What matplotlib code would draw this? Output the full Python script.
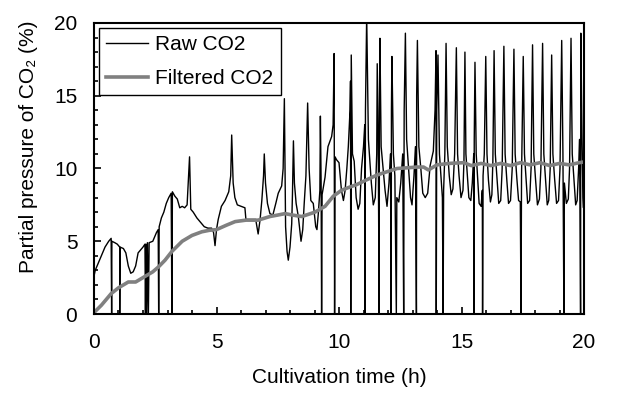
import numpy as np
import matplotlib.pyplot as plt
from matplotlib.ticker import MultipleLocator

plt.rcParams['font.family'] = ['Liberation Sans', 'DejaVu Sans']

# raw CO2 signal (time h, partial pressure %)
raw_t = [0.00, 0.05, 0.15, 0.30, 0.45, 0.60, 0.70, 0.72, 0.73, 0.85, 0.95, 1.05, 1.05, 1.06,
         1.20, 1.30, 1.40, 1.50, 1.60, 1.70, 1.80, 1.90, 2.00, 2.08, 2.10, 2.12, 2.15, 2.18,
         2.22, 2.25, 2.40, 2.55, 2.62, 2.64, 2.66, 2.75, 2.85, 2.95, 3.05, 3.15, 3.18, 3.20,
         3.30, 3.40, 3.50, 3.60, 3.70, 3.80, 3.90, 3.95, 4.05, 4.20, 4.35, 4.50, 4.65, 4.80,
         4.88, 4.94, 5.00, 5.07, 5.20, 5.35, 5.50, 5.58, 5.62, 5.68, 5.75, 5.85, 6.00, 6.16,
         6.20, 6.40, 6.60, 6.70, 6.78, 6.85, 6.92, 6.95, 7.00, 7.08, 7.18, 7.30, 7.42, 7.52,
         7.66, 7.72, 7.77, 7.82, 7.88, 7.93, 8.00, 8.07, 8.10, 8.14, 8.18, 8.25, 8.34, 8.45,
         8.52, 8.58, 8.65, 8.72, 8.78, 8.85, 8.95, 9.05, 9.10, 9.16, 9.22, 9.24, 9.27, 9.29,
         9.31, 9.43, 9.55, 9.70, 9.76, 9.80, 9.82, 9.84, 9.90, 10.00, 10.10, 10.18, 10.25,
         10.32, 10.38, 10.45, 10.47, 10.48, 10.50, 10.55, 10.62, 10.70, 10.78, 10.85, 10.92,
         11.00, 11.05, 11.06, 11.08, 11.13, 11.20, 11.26, 11.32, 11.40, 11.48, 11.54, 11.56,
         11.60, 11.64, 11.65, 11.67, 11.72, 11.80, 11.88, 11.96, 12.04, 12.10, 12.13, 12.14,
         12.16, 12.22, 12.28, 12.34, 12.36, 12.44, 12.52, 12.60, 12.64, 12.66, 12.71, 12.76,
         12.84, 12.92, 12.98, 13.06, 13.12, 13.16, 13.17, 13.20, 13.26, 13.34, 13.42, 13.52,
         13.62, 13.72, 13.85, 13.92, 13.96, 13.97, 13.99, 14.04, 14.10, 14.16, 14.22, 14.25,
         14.27, 14.32, 14.37, 14.42, 14.50, 14.58, 14.65, 14.72, 14.79, 14.84, 14.90, 14.98,
         15.06, 15.10, 15.14, 15.18, 15.24, 15.30, 15.38, 15.44, 15.50, 15.51, 15.52, 15.55,
         15.60, 15.66, 15.72, 15.80, 15.85, 15.86, 15.88, 15.93, 15.99, 16.04, 16.10, 16.18,
         16.24, 16.28, 16.33, 16.38, 16.45, 16.52, 16.60, 16.66, 16.73, 16.78, 16.85, 16.92,
         17.00, 17.07, 17.14, 17.19, 17.26, 17.33, 17.40, 17.43, 17.45, 17.52, 17.57, 17.64,
         17.70, 17.78, 17.84, 17.90, 17.95, 18.02, 18.10, 18.18, 18.24, 18.31, 18.36, 18.43,
         18.50, 18.56, 18.62, 18.68, 18.73, 18.80, 18.88, 18.96, 19.02, 19.09, 19.14, 19.18,
         19.20, 19.28, 19.36, 19.41, 19.47, 19.52, 19.58, 19.66, 19.72, 19.78, 19.82, 19.86,
         19.87, 19.92, 19.96, 19.98, 20.00]
raw_v = [2.6, 3.0, 3.4, 4.0, 4.6, 5.0, 5.2, 0.0, 5.0, 4.9, 4.8, 4.6, 0.0, 4.6,
         4.5, 4.2, 3.3, 2.8, 2.9, 3.3, 4.2, 4.4, 4.6, 4.8, 0.0, 4.8, 0.0, 4.9,
         0.0, 4.9, 5.0, 5.6, 5.8, 0.0, 6.0, 6.6, 7.0, 7.6, 8.0, 8.3, 0.0, 8.4,
         8.1, 7.9, 7.3, 7.4, 7.3, 7.5, 10.8, 7.2, 7.0, 6.6, 6.3, 6.0, 5.9, 5.9,
         5.6, 4.7, 5.8, 6.5, 7.4, 7.8, 8.4, 9.5, 12.3, 9.0, 8.0, 7.5, 7.4, 7.3,
         6.5, 6.5, 6.5, 5.5, 6.5, 7.8, 9.5, 11.0, 9.0, 7.6, 6.9, 6.8, 7.6, 8.3,
         8.8, 10.0, 14.8, 6.0, 4.3, 3.7, 4.6, 6.2, 8.2, 11.9, 9.0, 7.6, 6.7, 5.0,
         5.8, 7.6, 9.5, 14.5, 10.0, 7.8, 7.6, 6.0, 5.8, 7.0, 8.5, 13.6, 9.0, 0.0,
         8.2, 9.4, 11.5, 12.2, 13.0, 17.9, 0.0, 10.8, 10.6, 10.4, 8.5, 7.8, 8.5,
         10.0, 11.5, 14.0, 16.0, 0.0, 17.8, 11.0, 10.5, 8.0, 7.2, 7.6, 10.0,
         11.5, 13.0, 0.0, 14.0, 20.5, 12.0, 10.5, 9.0, 7.5, 8.0, 11.0, 17.2,
         12.0, 0.0, 14.0, 18.95, 11.5, 10.0, 8.5, 7.4, 9.0, 11.0, 0.0, 14.0,
         17.7, 11.0, 9.5, 0.0, 8.0, 7.7, 9.0, 11.0, 0.0, 14.0, 19.3, 12.0,
         10.0, 8.0, 7.5, 9.5, 11.5, 0.0, 15.0, 18.8, 11.5, 10.0, 8.3, 8.0,
         8.3, 10.2, 11.2, 14.0, 18.1, 0.0, 14.0, 17.8, 11.0, 9.5, 8.0, 0.0,
         8.5, 11.0, 18.6, 11.5, 9.5, 8.2, 8.6, 11.0, 18.3, 11.0, 9.5, 8.0,
         8.5, 10.5, 18.0, 11.0, 9.5, 8.0, 7.8, 9.0, 11.0, 0.0, 12.0, 17.3,
         11.0, 9.3, 7.6, 7.4, 8.5, 0.0, 9.5, 11.0, 17.7, 11.0, 9.2, 7.7,
         8.2, 10.5, 18.1, 11.0, 9.3, 7.6, 7.8, 10.0, 18.4, 11.0, 9.2, 7.6,
         7.8, 10.0, 18.2, 11.0, 9.3, 7.8, 7.7, 0.0, 9.5, 17.7, 11.0, 9.2,
         7.6, 7.8, 10.0, 18.5, 11.0, 9.3, 7.5, 7.9, 10.0, 18.6, 11.0, 9.2,
         7.5, 7.8, 10.0, 17.8, 11.0, 9.3, 7.6, 7.8, 10.0, 18.8, 11.0, 0.0,
         9.0, 7.6, 7.9, 10.0, 18.95, 11.0, 9.5, 7.5, 7.8, 10.0, 12.0, 0.0,
         19.3, 12.0, 8.0, 7.3, 17.9]

# filtered CO2 signal
filt_t = [0.0, 0.3, 0.7, 1.0, 1.4, 1.7, 2.1, 2.4, 2.64, 2.9, 3.18, 3.6, 4.0, 4.4, 4.7,
          5.0, 5.4, 5.76, 6.2, 6.7, 7.18, 7.5, 7.8, 8.1, 8.48, 9.02, 9.43, 9.77, 10.1,
          10.4, 10.73, 11.1, 11.55, 12.0, 12.37, 12.8, 13.18, 13.45, 13.65, 14.0, 14.5,
          15.09, 15.4, 15.8, 16.2, 16.6, 17.0, 17.4, 17.8, 18.2, 18.6, 19.0, 19.4,
          19.8, 20.0]
filt_v = [0.1, 0.6, 1.4, 1.8, 2.2, 2.2, 2.6, 2.9, 3.25, 3.7, 4.3, 5.0, 5.4, 5.65, 5.75,
          5.8, 6.1, 6.35, 6.45, 6.45, 6.7, 6.8, 6.9, 6.8, 6.7, 7.0, 7.4, 8.1, 8.5,
          8.7, 8.9, 9.2, 9.55, 9.8, 10.0, 10.05, 10.1, 10.1, 9.9, 10.25, 10.35,
          10.4, 10.2, 10.35, 10.2, 10.35, 10.2, 10.4, 10.25, 10.4, 10.2, 10.35, 10.25,
          10.4, 10.45]

fig = plt.figure(figsize=(6.23, 3.94), dpi=100)
ax = fig.add_axes([94 / 623, 80 / 394, 490 / 623, 291 / 394])

ax.plot(raw_t, raw_v, color="black", lw=1.0, label="Raw CO2")
ax.plot(filt_t, filt_v, color="#808080", lw=2.6, label="Filtered CO2")

ax.set_xlim(0, 20)
ax.set_ylim(0, 20)
ax.xaxis.set_major_locator(MultipleLocator(5))
ax.yaxis.set_major_locator(MultipleLocator(5))
ax.xaxis.set_minor_locator(MultipleLocator(1))
ax.yaxis.set_minor_locator(MultipleLocator(1))
ax.tick_params(which="both", direction="in", labelsize=15, width=1.2)
ax.tick_params(which="major", length=5)
ax.tick_params(which="minor", length=3)
ax.tick_params(axis="x", which="major", pad=13.5)
ax.tick_params(axis="y", which="major", pad=12)
for s in ax.spines.values():
    s.set_linewidth(1.5)

ax.set_xlabel("Cultivation time (h)", fontsize=15)
ax.set_ylabel("Partial pressure of CO\u2082 (%)", fontsize=15)
ax.xaxis.set_label_coords(0.5, -0.186)
ax.yaxis.set_label_coords(-0.115, 0.576)

leg = ax.legend(loc="upper left", fontsize=15, fancybox=False, edgecolor="black",
                borderaxespad=0.25, handlelength=2.0, handletextpad=0.35, labelspacing=0.7,
                borderpad=0.35, framealpha=1)
leg.get_frame().set_linewidth(1.0)

plt.savefig("out.png", dpi=100)
